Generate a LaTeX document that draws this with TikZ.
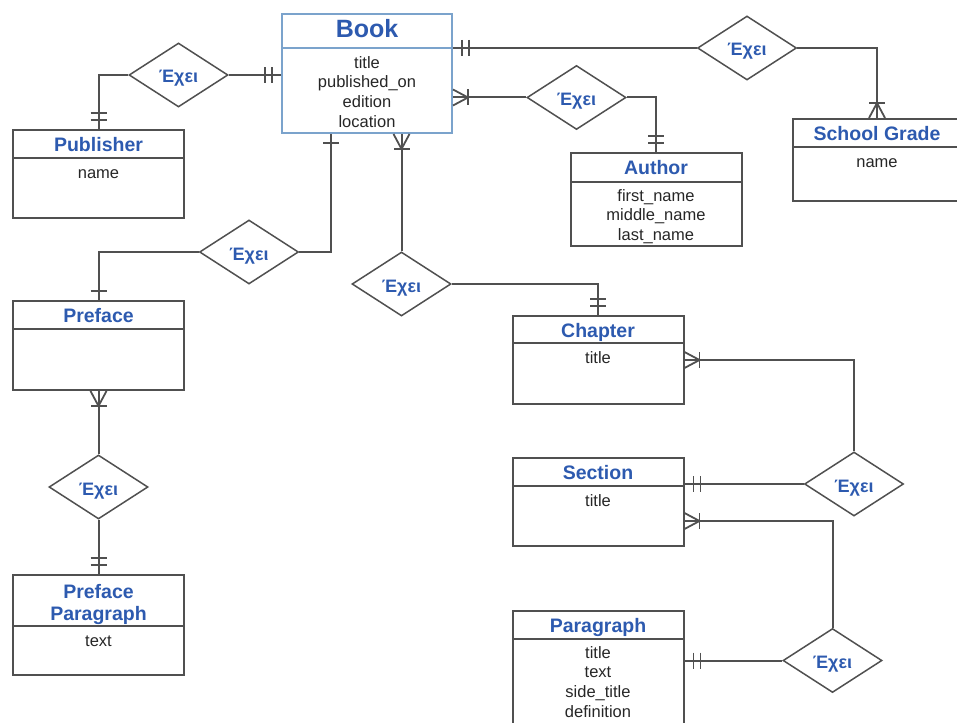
\documentclass[tikz,border=0pt]{standalone}
\usepackage{fontspec}
\setmainfont{Liberation Sans}
\usepackage{tikz}
\usetikzlibrary{shapes.geometric, positioning, calc, decorations.markings}

\definecolor{titleblue}{RGB}{45,90,175}
\definecolor{linegray}{RGB}{80,80,80}
\definecolor{bookblue}{RGB}{123,163,204}

\begin{document}
\begin{tikzpicture}[
    x=1pt, y=-1pt,
    entity/.style={rectangle, draw=linegray, line width=2pt, minimum width=171pt, inner sep=0pt},
    ehead/.style={rectangle, draw=linegray, line width=2pt, minimum width=171pt, minimum height=28pt, inner sep=0pt, align=center, text height=15pt, text depth=0pt, text=titleblue, font=\fontsize{19.5}{22}\selectfont\bfseries},
    eattr/.style={inner sep=0pt, align=center, text=black!85, font=\fontsize{16.5}{19.7}\selectfont, execute at begin node=\strut},
    rel/.style={diamond, draw=linegray, line width=1.5pt, minimum width=99pt, minimum height=64pt, inner sep=0pt, text height=16pt, text depth=0pt, text=titleblue, font=\fontsize{18}{20}\selectfont\bfseries},
    link/.style={draw=linegray, line width=2pt},
    tick/.style={draw=linegray, line width=1.8pt},
    tone/.style={postaction={decorate, decoration={markings, mark=at position 1 with {\draw[tick] (-9pt,-8pt) -- (-9pt,8pt);}}}},
    tonly/.style={postaction={decorate, decoration={markings, mark=at position 1 with {\draw[tick] (-9pt,-8pt) -- (-9pt,8pt); \draw[tick] (-16pt,-8pt) -- (-16pt,8pt);}}}},
    tmany/.style={postaction={decorate, decoration={markings, mark=at position 1 with {\draw[tick] (-15pt,-8pt) -- (-15pt,8pt); \draw[tick] (0pt,-8pt) -- (-15pt,0pt) -- (0pt,8pt);}}}}
]
\useasboundingbox (0,0) rectangle (957,722);

% entities
\node[entity, draw=bookblue, minimum width=170pt, minimum height=119pt] (book) at (367,73.5) {};
\node[ehead, draw=bookblue, minimum width=170pt, minimum height=34pt, text height=13pt, font=\fontsize{25}{28}\selectfont\bfseries, below=0pt of book.north] (bookh) {Book};
\node[eattr, below=7pt of bookh] (booka) {title\\published\_on\\edition\\location};

\node[entity, minimum height=88pt] (pub) at (98.5,174) {};
\node[ehead, below=0pt of pub.north] (pubh) {Publisher};
\node[eattr, below=6pt of pubh] (puba) {name};

\node[entity, minimum height=93pt] (author) at (656,199.5) {};
\node[ehead, minimum height=29pt, below=0pt of author.north] (authorh) {Author};
\node[eattr, below=6pt of authorh] (authora) {first\_name\\middle\_name\\last\_name};

\node[entity, minimum width=168pt, minimum height=82pt] (sg) at (877,160) {};
\node[ehead, minimum width=168pt, below=0pt of sg.north] (sgh) {School Grade};
\node[eattr, below=6pt of sgh] (sga) {name};

\node[entity, minimum height=89pt] (pref) at (98.5,345.5) {};
\node[ehead, below=0pt of pref.north] (prefh) {Preface};

\node[entity, minimum height=100pt] (ppar) at (98.5,625) {};
\node[ehead, minimum height=51pt, text height=39pt, below=0pt of ppar.north] (pparh) {Preface\\Paragraph};
\node[eattr, below=6pt of pparh] (ppara) {text};

\node[entity, minimum height=88pt] (chap) at (598,360) {};
\node[ehead, minimum height=27pt, below=0pt of chap.north] (chaph) {Chapter};
\node[eattr, below=6pt of chaph] (chapa) {title};

\node[entity, minimum height=88pt] (sec) at (598,502) {};
\node[ehead, below=0pt of sec.north] (sech) {Section};
\node[eattr, below=6pt of sech] (seca) {title};

\node[entity, minimum height=129pt] (para) at (598,675.5) {};
\node[ehead, below=0pt of para.north] (parah) {Paragraph};
\node[eattr, below=6pt of parah] (paraa) {title\\text\\side\_title\\definition};

% relationships
\node[rel] (d1) at (178.5,75)   {Έχει};
\node[rel] (d2) at (747,48)     {Έχει};
\node[rel] (d3) at (576.5,97.5) {Έχει};
\node[rel] (d4) at (249,252)    {Έχει};
\node[rel] (d5) at (401.5,284)  {Έχει};
\node[rel] (d6) at (98.5,487)   {Έχει};
\node[rel] (d7) at (854,484)    {Έχει};
\node[rel] (d8) at (832.5,660.5) {Έχει};

\draw[link, tonly] (d1.west) -| (pub.north);
\draw[link, tonly] (d1.east) -- (d1.east -| book.west);
\draw[link, tonly] (d2.west) -- (d2.west -| book.east);
\draw[link, tmany] (d2.east) -| (sg.north);
\draw[link, tmany] (d3.west) -- (d3.west -| book.east);
\draw[link, tonly] (d3.east) -| (author.north);
\draw[link, tone]  (d4.east) -| ([xshift=-36pt]book.south);
\draw[link, tone]  (d4.west) -| (pref.north);
\draw[link, tmany] (d5.north) -- (d5.north |- book.south);
\draw[link, tonly] (d5.east) -| (chap.north);
\draw[link, tmany] (d6.north) -- (pref.south);
\draw[link, tonly] (d6.south) -- (ppar.north);
\draw[link, tmany] (d7.north) |- (chap.east);
\draw[link, tonly] (d7.west) -- (d7.west -| sec.east);
\draw[link, tmany] (d8.north) |- ([yshift=-19pt]sec.east);
\draw[link, tonly] (d8.west) -- (d8.west -| para.east);

\end{tikzpicture}
\end{document}
